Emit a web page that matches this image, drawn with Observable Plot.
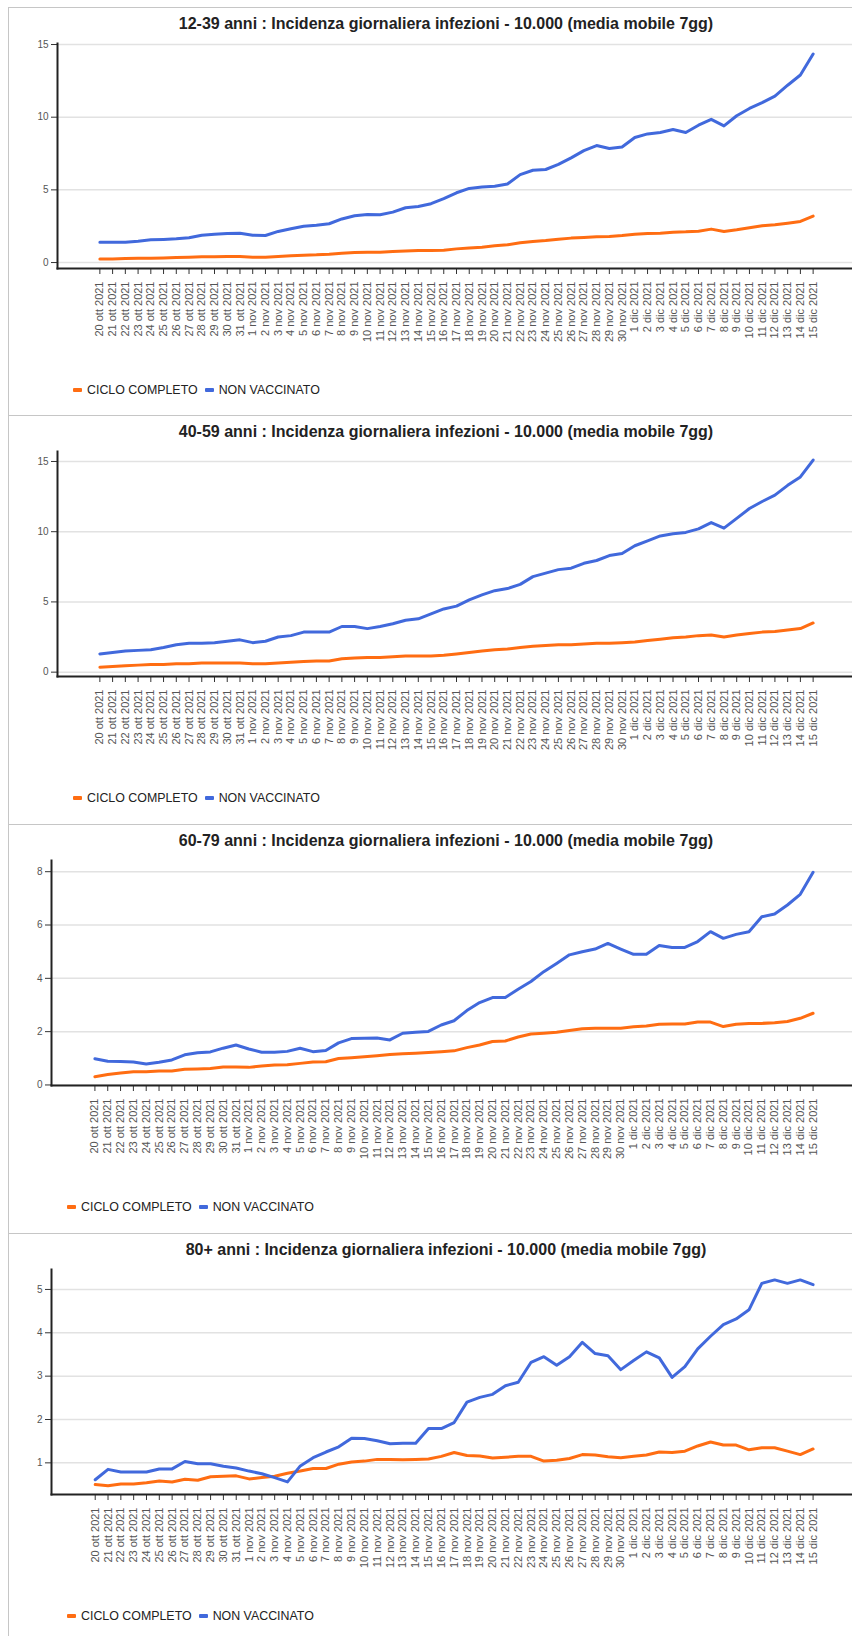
<!DOCTYPE html>
<html><head><meta charset="utf-8">
<script src="https://cdn.jsdelivr.net/npm/d3@7"></script>
<script src="https://cdn.jsdelivr.net/npm/@observablehq/plot@0.6"></script>
<style>
body{margin:0;background:#fff;font-family:"Liberation Sans",Arial,sans-serif;}
#root{position:relative;width:852px;height:1636px;overflow:hidden;}
.panel{position:absolute;left:8px;width:850px;border-top:1px solid #c6c6c6;border-left:1px solid #c6c6c6;box-sizing:border-box;}
.title{position:absolute;font-weight:bold;font-size:16px;color:#222;white-space:nowrap;transform:translate(-50%,-50%);}
.legend{position:absolute;font-size:12.4px;color:#222;display:flex;align-items:center;transform:translateY(-50%);white-space:nowrap;}
.sw{display:inline-block;width:9px;height:4px;border-radius:1px;margin-right:5px;}
.item{display:flex;align-items:center;margin-right:7px;}
svg{position:absolute;left:0;}
</style></head><body><div id="root"></div>
<script>
const dates = [
"20 ott 2021","21 ott 2021","22 ott 2021","23 ott 2021","24 ott 2021","25 ott 2021","26 ott 2021","27 ott 2021","28 ott 2021","29 ott 2021","30 ott 2021","31 ott 2021",
"1 nov 2021","2 nov 2021","3 nov 2021","4 nov 2021","5 nov 2021","6 nov 2021","7 nov 2021","8 nov 2021","9 nov 2021","10 nov 2021","11 nov 2021","12 nov 2021","13 nov 2021","14 nov 2021","15 nov 2021",
"16 nov 2021","17 nov 2021","18 nov 2021","19 nov 2021","20 nov 2021","21 nov 2021","22 nov 2021","23 nov 2021","24 nov 2021","25 nov 2021","26 nov 2021","27 nov 2021","28 nov 2021","29 nov 2021","30 nov 2021",
"1 dic 2021","2 dic 2021","3 dic 2021","4 dic 2021","5 dic 2021","6 dic 2021","7 dic 2021","8 dic 2021","9 dic 2021","10 dic 2021","11 dic 2021","12 dic 2021","13 dic 2021","14 dic 2021","15 dic 2021"];

const seriesNames = ["CICLO COMPLETO","NON VACCINATO"];
const titles = [
"12-39 anni : Incidenza giornaliera infezioni - 10.000 (media mobile 7gg)",
"40-59 anni : Incidenza giornaliera infezioni - 10.000 (media mobile 7gg)",
"60-79 anni : Incidenza giornaliera infezioni - 10.000 (media mobile 7gg)",
"80+ anni : Incidenza giornaliera infezioni - 10.000 (media mobile 7gg)"];

const a1239Completo = [0.25,0.25,0.28,0.29,0.29,0.32,0.34,0.37,0.39,0.39,0.41,0.41,
0.37,0.37,0.41,0.46,0.51,0.53,0.57,0.64,0.69,0.71,0.71,0.76,0.80,0.83,0.83,
0.85,0.94,1.00,1.06,1.15,1.22,1.36,1.45,1.52,1.61,1.68,1.72,1.77,1.79,1.86,
1.95,2.00,2.02,2.09,2.11,2.16,2.30,2.14,2.25,2.39,2.53,2.60,2.71,2.83,3.19];
const a1239NonVacc = [1.40,1.40,1.40,1.47,1.56,1.59,1.63,1.70,1.88,1.95,2.00,2.02,
1.88,1.86,2.14,2.32,2.50,2.57,2.67,3.00,3.22,3.31,3.29,3.47,3.77,3.86,4.05,
4.40,4.80,5.10,5.20,5.25,5.40,6.05,6.35,6.40,6.75,7.20,7.70,8.05,7.85,7.95,
8.60,8.85,8.95,9.15,8.95,9.45,9.85,9.40,10.1,10.6,11.0,11.45,12.2,12.9,14.35];

const a4059Completo = [0.35,0.40,0.45,0.50,0.55,0.55,0.60,0.60,0.65,0.65,0.65,0.65,
0.60,0.60,0.65,0.70,0.75,0.80,0.80,0.95,1.00,1.05,1.05,1.10,1.15,1.15,1.15,
1.20,1.30,1.40,1.50,1.60,1.65,1.75,1.85,1.90,1.95,1.95,2.00,2.05,2.05,2.10,
2.15,2.25,2.35,2.45,2.50,2.60,2.65,2.50,2.65,2.75,2.85,2.90,3.00,3.10,3.50];
const a4059NonVacc = [1.30,1.40,1.50,1.55,1.60,1.75,1.95,2.05,2.05,2.10,2.20,2.30,
2.10,2.20,2.50,2.60,2.85,2.85,2.85,3.25,3.25,3.10,3.25,3.45,3.70,3.80,4.15,
4.50,4.70,5.15,5.50,5.80,5.95,6.25,6.80,7.05,7.30,7.40,7.75,7.95,8.30,8.45,
9.00,9.35,9.70,9.85,9.95,10.2,10.65,10.25,10.95,11.65,12.15,12.6,13.3,13.9,15.1];

const a6079Completo = [0.31,0.39,0.45,0.50,0.50,0.52,0.52,0.59,0.60,0.62,0.67,0.67,
0.66,0.71,0.75,0.76,0.81,0.86,0.87,0.99,1.02,1.06,1.10,1.14,1.17,1.19,1.22,
1.25,1.28,1.40,1.50,1.63,1.65,1.80,1.91,1.94,1.98,2.04,2.11,2.13,2.13,2.13,
2.18,2.21,2.28,2.29,2.29,2.36,2.36,2.19,2.28,2.31,2.31,2.33,2.38,2.50,2.69];
const a6079NonVacc = [0.98,0.89,0.88,0.86,0.79,0.85,0.94,1.13,1.21,1.24,1.38,1.50,
1.35,1.23,1.23,1.26,1.38,1.25,1.29,1.58,1.74,1.75,1.76,1.69,1.94,1.98,2.01,
2.25,2.41,2.79,3.09,3.28,3.28,3.59,3.88,4.25,4.56,4.88,5.00,5.10,5.31,5.10,
4.90,4.90,5.23,5.16,5.16,5.38,5.75,5.50,5.65,5.75,6.31,6.41,6.75,7.15,7.98];

const a80Completo = [0.50,0.47,0.51,0.51,0.54,0.58,0.56,0.62,0.60,0.68,0.69,0.70,
0.63,0.66,0.69,0.76,0.81,0.87,0.87,0.97,1.02,1.04,1.08,1.08,1.07,1.08,1.09,
1.15,1.24,1.17,1.16,1.11,1.13,1.15,1.15,1.04,1.06,1.10,1.19,1.18,1.14,1.12,
1.15,1.18,1.25,1.24,1.27,1.39,1.48,1.41,1.41,1.30,1.35,1.35,1.27,1.19,1.32];
const a80NonVacc = [0.61,0.85,0.79,0.79,0.79,0.86,0.86,1.03,0.98,0.98,0.92,0.88,
0.81,0.75,0.66,0.56,0.93,1.12,1.25,1.37,1.57,1.56,1.51,1.44,1.45,1.45,1.79,
1.79,1.93,2.40,2.51,2.58,2.78,2.86,3.32,3.45,3.25,3.45,3.78,3.52,3.47,3.15,
3.36,3.56,3.42,2.97,3.22,3.63,3.92,4.19,4.32,4.53,5.14,5.22,5.14,5.22,5.11];

const ticks1239 = [0,5,10,15];
const ticks4059 = [0,5,10,15];
const ticks6079 = [0,2,4,6,8];
const ticks80 = [1,2,3,4,5];

const ORANGE = "#ff6d12", BLUE = "#4169dc";

const panels = [
  {top:7,   title:titles[0], comp:a1239Completo, non:a1239NonVacc, ticks:ticks1239, ml:57, xr:[93,819],   yd:[-0.41,15.07]},
  {top:415, title:titles[1], comp:a4059Completo, non:a4059NonVacc, ticks:ticks4059, ml:57, xr:[93,819],   yd:[-0.31,15.71]},
  {top:824, title:titles[2], comp:a6079Completo, non:a6079NonVacc, ticks:ticks6079, ml:51, xr:[88,819],   yd:[-0.02,8.42]},
  {top:1233,title:titles[3], comp:a80Completo,   non:a80NonVacc,   ticks:ticks80,   ml:51, xr:[88.3,819], yd:[0.27,5.46]}
];

const root = document.getElementById("root");
panels.forEach((p, k) => {
  const nextTop = k < panels.length - 1 ? panels[k+1].top : 1640;
  const box = document.createElement("div");
  box.className = "panel";
  box.style.top = p.top + "px";
  box.style.height = (nextTop - p.top) + "px";
  root.appendChild(box);

  const t = document.createElement("div");
  t.className = "title";
  t.textContent = p.title;
  t.style.left = "446px";
  t.style.top = (p.top + 17) + "px";
  root.appendChild(t);

  const data = dates.flatMap((d, i) => [
    {date: d, v: p.comp[i], s: seriesNames[0]},
    {date: d, v: p.non[i], s: seriesNames[1]}
  ]);

  const svg = Plot.plot({
    width: 852, height: 313,
    marginTop: 6, marginBottom: 82, marginLeft: p.ml, marginRight: 0,
    style: {fontFamily: "'Liberation Sans', Arial, sans-serif", background: "transparent", overflow: "visible"},
    x: {type: "point", domain: dates, range: p.xr},
    y: {domain: p.yd},
    color: {domain: seriesNames, range: [ORANGE, BLUE]},
    marks: [
      Plot.ruleY(p.ticks, {stroke: "#e2e2e2", strokeWidth: 1.5}),
      Plot.axisY({ticks: p.ticks, tickFormat: d => String(d), tickSize: 6, tickPadding: 3, fontSize: 10, stroke: "#333", fill: "#555", label: null}),
      Plot.axisX({tickRotate: -90, tickSize: 6, tickPadding: 7, fontSize: 11, stroke: "#333", fill: "#555", label: null}),
      Plot.line(data, {x: "date", y: "v", stroke: "s", strokeWidth: 3}),
      Plot.frame({anchor: "left", stroke: "#222", strokeWidth: 2}),
      Plot.frame({anchor: "bottom", stroke: "#222", strokeWidth: 2})
    ]
  });
  svg.style.top = (p.top + 30) + "px";
  root.appendChild(svg);

  const lg = document.createElement("div");
  lg.className = "legend";
  lg.style.left = (p.ml + 16) + "px";
  lg.style.top = (p.top + 383) + "px";
  seriesNames.forEach((name, j) => {
    const it = document.createElement("span");
    it.className = "item";
    const sw = document.createElement("span");
    sw.className = "sw";
    sw.style.background = j === 0 ? ORANGE : BLUE;
    it.appendChild(sw);
    it.appendChild(document.createTextNode(name));
    lg.appendChild(it);
  });
  root.appendChild(lg);
});
</script></body></html>
